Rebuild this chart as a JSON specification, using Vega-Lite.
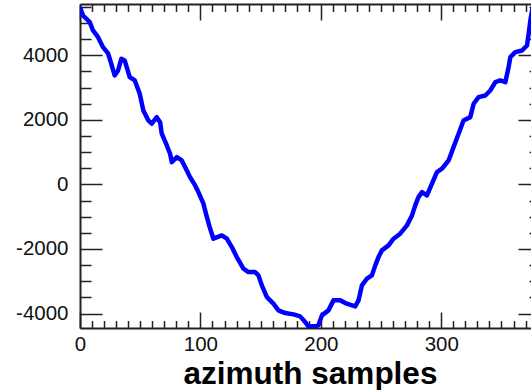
{
  "$schema": "https://vega.github.io/schema/vega-lite/v6.json",
  "width": 460,
  "height": 324,
  "autosize": {"type": "none"},
  "padding": {"left": 80, "top": 4, "right": 0, "bottom": 62},
  "background": "white",
  "config": {
    "view": {"stroke": null},
    "axis": {
      "grid": false,
      "domainColor": "#222",
      "domainWidth": 2,
      "tickColor": "#222",
      "tickWidth": 1.5,
      "labelFont": "Liberation Sans",
      "labelFontSize": 20.5,
      "labelColor": "#111",
      "labelOverlap": false,
      "labelFlush": false,
      "titleFont": "Liberation Sans"
    }
  },
  "data": {
    "values": [
      {"sample": 0, "value": 5490}, {"sample": 2.5, "value": 5232}, {"sample": 8.1, "value": 5025},
      {"sample": 10.8, "value": 4768}, {"sample": 15, "value": 4560}, {"sample": 19.1, "value": 4251},
      {"sample": 23.3, "value": 4056}, {"sample": 26, "value": 3737}, {"sample": 28.8, "value": 3375},
      {"sample": 31.6, "value": 3529}, {"sample": 34.3, "value": 3892}, {"sample": 37.1, "value": 3839},
      {"sample": 41.3, "value": 3322}, {"sample": 45.5, "value": 3220}, {"sample": 49.6, "value": 2808},
      {"sample": 52.6, "value": 2291}, {"sample": 56.8, "value": 1981}, {"sample": 59.6, "value": 1879},
      {"sample": 63.7, "value": 2084}, {"sample": 66.5, "value": 1929}, {"sample": 67.9, "value": 1570},
      {"sample": 72.1, "value": 1207}, {"sample": 74.8, "value": 950}, {"sample": 76.2, "value": 690},
      {"sample": 80.4, "value": 845}, {"sample": 84.5, "value": 743}, {"sample": 87.3, "value": 536},
      {"sample": 91.4, "value": 226}, {"sample": 95.6, "value": -31}, {"sample": 98.3, "value": -238},
      {"sample": 102.5, "value": -598}, {"sample": 105, "value": -960}, {"sample": 107.5, "value": -1300},
      {"sample": 110.8, "value": -1681}, {"sample": 117.8, "value": -1579}, {"sample": 121.9, "value": -1681},
      {"sample": 126.1, "value": -1941}, {"sample": 130.2, "value": -2251}, {"sample": 135.7, "value": -2610},
      {"sample": 139.9, "value": -2715}, {"sample": 145.4, "value": -2715}, {"sample": 148.2, "value": -2817},
      {"sample": 151, "value": -3127}, {"sample": 155.2, "value": -3489}, {"sample": 160.6, "value": -3693},
      {"sample": 164.8, "value": -3901}, {"sample": 170.4, "value": -3985}, {"sample": 177.3, "value": -4025},
      {"sample": 182.8, "value": -4087}, {"sample": 187, "value": -4263}, {"sample": 189.7, "value": -4396},
      {"sample": 193.9, "value": -4396}, {"sample": 198, "value": -4365}, {"sample": 200.9, "value": -4056},
      {"sample": 206.3, "value": -3901}, {"sample": 210.5, "value": -3591}, {"sample": 216.1, "value": -3591},
      {"sample": 221.6, "value": -3693}, {"sample": 228.5, "value": -3777}, {"sample": 231.3, "value": -3591},
      {"sample": 234.1, "value": -3127}, {"sample": 238.3, "value": -2920}, {"sample": 242.4, "value": -2817},
      {"sample": 245.2, "value": -2508}, {"sample": 247.9, "value": -2251}, {"sample": 250.7, "value": -2043},
      {"sample": 256.2, "value": -1889}, {"sample": 260.4, "value": -1681}, {"sample": 265.9, "value": -1526},
      {"sample": 271.5, "value": -1269}, {"sample": 275.7, "value": -960}, {"sample": 278.4, "value": -650},
      {"sample": 281.1, "value": -393}, {"sample": 284, "value": -238}, {"sample": 288.1, "value": -341},
      {"sample": 292.3, "value": 22}, {"sample": 296.4, "value": 381}, {"sample": 300.6, "value": 486},
      {"sample": 306.1, "value": 743}, {"sample": 310.2, "value": 1155}, {"sample": 314.4, "value": 1570},
      {"sample": 318.5, "value": 1981}, {"sample": 324.1, "value": 2084}, {"sample": 326.9, "value": 2498},
      {"sample": 331, "value": 2703}, {"sample": 336.6, "value": 2755}, {"sample": 340.7, "value": 2910},
      {"sample": 344.9, "value": 3167}, {"sample": 349, "value": 3220}, {"sample": 353.2, "value": 3167},
      {"sample": 355.9, "value": 3632}, {"sample": 357.4, "value": 3941}, {"sample": 361.5, "value": 4096},
      {"sample": 367.1, "value": 4149}, {"sample": 371.2, "value": 4303}, {"sample": 372.6, "value": 4666},
      {"sample": 374, "value": 5077}, {"sample": 376, "value": 5500}
    ]
  },
  "layer": [
    {
      "mark": {"type": "line", "color": "#0000ff", "strokeWidth": 4.5, "clip": true, "strokeJoin": "round"},
      "encoding": {
        "x": {
          "field": "sample", "type": "quantitative",
          "scale": {"domain": [0, 382], "nice": false, "zero": false},
          "axis": {
            "orient": "bottom",
            "values": [0,10,20,30,40,50,60,70,80,90,100,110,120,130,140,150,160,170,180,190,200,210,220,230,240,250,260,270,280,290,300,310,320,330,340,350,360,370,380],
            "labelExpr": "datum.value % 100 === 0 ? '' + datum.value : ''",
            "tickSize": {"condition": {"test": "datum.value % 100 === 0", "value": -16}, "value": -7.5},
            "labelPadding": 22.5,
            "title": "azimuth samples",
            "titleFontSize": 31.5,
            "titleFontWeight": "bold",
            "titleColor": "#000",
            "titleBaseline": "alphabetic",
            "titleY": 55.5
          }
        },
        "y": {
          "field": "value", "type": "quantitative",
          "scale": {"domain": [-4447, 5588], "nice": false, "zero": false},
          "axis": {
            "orient": "left",
            "values": [-4000,-3500,-3000,-2500,-2000,-1500,-1000,-500,0,500,1000,1500,2000,2500,3000,3500,4000,4500,5000,5500],
            "labelExpr": "datum.value % 2000 === 0 ? '' + datum.value : ''",
            "tickSize": {"condition": {"test": "datum.value % 2000 === 0", "value": -22}, "value": -11},
            "labelPadding": 34,
            "title": null
          }
        }
      }
    },
    {
      "mark": {"type": "line", "opacity": 0},
      "encoding": {
        "x": {
          "field": "sample", "type": "quantitative",
          "scale": {"domain": [0, 382], "nice": false, "zero": false},
          "axis": {
            "orient": "top",
            "values": [0,10,20,30,40,50,60,70,80,90,100,110,120,130,140,150,160,170,180,190,200,210,220,230,240,250,260,270,280,290,300,310,320,330,340,350,360,370,380],
            "labels": false,
            "tickSize": {"condition": {"test": "datum.value % 100 === 0", "value": -16}, "value": -7.5},
            "title": null
          }
        },
        "y": {
          "field": "value", "type": "quantitative",
          "scale": {"domain": [-4447, 5588], "nice": false, "zero": false},
          "axis": {
            "orient": "right",
            "values": [-4000,-3500,-3000,-2500,-2000,-1500,-1000,-500,0,500,1000,1500,2000,2500,3000,3500,4000,4500,5000,5500],
            "labels": false,
            "tickSize": {"condition": {"test": "datum.value % 2000 === 0", "value": -22}, "value": -11},
            "title": null
          }
        }
      }
    }
  ],
  "resolve": {"axis": {"x": "independent", "y": "independent"}}
}
